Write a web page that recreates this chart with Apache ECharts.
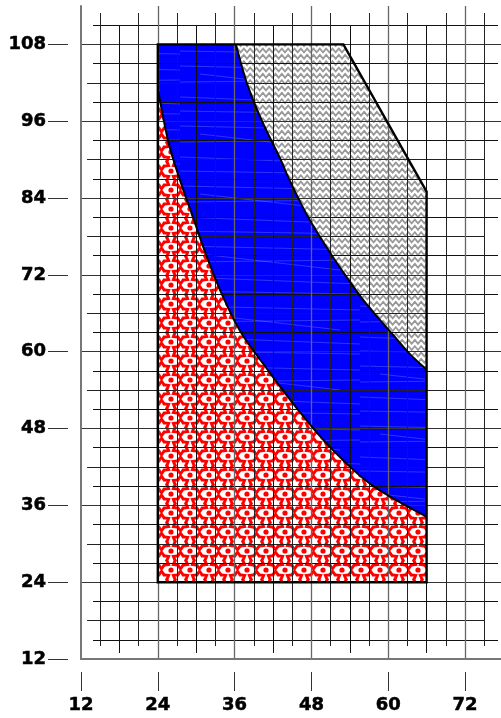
<!DOCTYPE html>
<html><head><meta charset="utf-8">
<script src="https://cdn.jsdelivr.net/npm/echarts@6/dist/echarts.min.js"></script>
<style>html,body{margin:0;padding:0;background:#fff}#c{width:501px;height:718px}</style>
</head><body><div id="c"></div>
<script>
// ---- data ----
const xTickLabels = [12, 24, 36, 48, 60, 72];
const yTickLabels = [12, 24, 36, 48, 60, 72, 84, 96, 108];
// boundary between blue (middle) and gray (upper) region
const upperCurve = [[36.2,108],[37.9,102],[40.3,96],[43.2,90],[44.5,87],[47.5,81],[50.9,75.5],[53.4,71.8],[56,68.2],[58.5,65.2],[61.3,62],[63.5,59.5],[66,57.2]];
// boundary between red (lower) and blue (middle) region
const lowerCurve = [[24,101],[25.6,93],[27.4,87],[29.5,81],[31.6,75],[34,69],[37,63],[41.3,57],[45.7,51.2],[50.9,45.1],[57.4,39.2],[66,34.2]];
// corners of the outer shape
const outerShape = [[24,24],[24,108],[53,108],[66,85],[66,24]];

// region outlines: sequences of straight ('L') and curved ('C') parts
const regionRed = [['L', [outerShape[0], outerShape[4]]], ['C', lowerCurve.slice().reverse()]];
const regionBlue = [['L', [outerShape[1]]], ['C', upperCurve], ['C', lowerCurve.slice().reverse()]];
const regionGray = [['L', [outerShape[2], outerShape[3]]], ['C', upperCurve.slice().reverse()]];
const regions = [regionRed, regionBlue, regionGray];

// ---- layout helpers ----
const X0 = 81, PXX = 6.4;
const Y0 = 659, PXY = 653 / 102;
const X = v => X0 + (v - 12) * PXX;
const Y = v => Y0 - (v - 12) * PXY;

// smooth rendering of a curve through pixel points (Catmull-Rom -> Bezier)
function curveSeg(pts, start) {
  let d = start ? `M${pts[0][0]},${pts[0][1]}` : `L${pts[0][0]},${pts[0][1]}`;
  const n = pts.length;
  for (let i = 0; i < n - 1; i++) {
    const p0 = pts[Math.max(i - 1, 0)], p1 = pts[i], p2 = pts[i + 1], p3 = pts[Math.min(i + 2, n - 1)];
    const c1 = [p1[0] + (p2[0] - p0[0]) / 6, p1[1] + (p2[1] - p0[1]) / 6];
    const c2 = [p2[0] - (p3[0] - p1[0]) / 6, p2[1] - (p3[1] - p1[1]) / 6];
    d += ` C${c1[0]},${c1[1]} ${c2[0]},${c2[1]} ${p2[0]},${p2[1]}`;
  }
  return d;
}
function regionPath(parts, api, close) {
  let d = '', first = true;
  parts.forEach(([kind, pts]) => {
    const px = pts.map(p => api.coord(p));
    if (kind === 'L') {
      px.forEach(p => { d += (first ? `M${p[0]},${p[1]}` : ` L${p[0]},${p[1]}`); first = false; });
    } else {
      d += ' ' + curveSeg(px, first); first = false;
    }
  });
  return d + (close ? ' Z' : '');
}

// ---- patterns ----
function starPath(ctx, cx, cy, ro, ri) {
  ctx.beginPath();
  for (let i = 0; i < 12; i++) {
    const r = i % 2 ? ri : ro;
    const a = -Math.PI / 2 + i * Math.PI / 6;
    ctx.lineTo(cx + r * Math.cos(a), cy + r * Math.sin(a));
  }
  ctx.closePath();
}
function redPattern() {
  const c = document.createElement('canvas'); c.width = 19; c.height = 19;
  const g = c.getContext('2d');
  g.fillStyle = '#ffffff'; g.fillRect(0, 0, 19, 19);
  g.fillStyle = '#ff0000';
  starPath(g, 9.5, 9.5, 10.6, 7.0); g.fill();
  [[0,0],[19,0],[0,19],[19,19]].forEach(p => { g.beginPath(); g.arc(p[0], p[1], 2.6, 0, Math.PI * 2); g.fill(); });
  g.fillStyle = '#ffffff'; starPath(g, 9.5, 9.5, 6.0, 3.5); g.fill();
  return c;
}
function grayPattern() {
  const c = document.createElement('canvas'); c.width = 19; c.height = 19;
  const g = c.getContext('2d');
  g.fillStyle = '#999999'; g.fillRect(0, 0, 19, 19);
  g.strokeStyle = '#ffffff'; g.lineWidth = 2.2; g.lineJoin = 'miter';
  const step = 19 / 6;
  [1.0, 7.33, 13.66].forEach(y0 => {
    g.beginPath();
    for (let i = -1; i <= 7; i++) {
      g.lineTo(i * step, y0 + (((i % 2) + 2) % 2 === 0 ? 3.9 : 0));
    }
    g.stroke();
  });
  return c;
}
function bluePattern() {
  const c = document.createElement('canvas'); c.width = 180; c.height = 60;
  const g = c.getContext('2d');
  g.fillStyle = '#0000ff'; g.fillRect(0, 0, 180, 60);
  g.strokeStyle = 'rgba(170,185,255,0.4)'; g.lineWidth = 0.7;
  [[0,6,180,10],[0,22,180,20],[0,37,180,44],[0,51,180,54],[20,14,160,30]].forEach(l => {
    g.beginPath(); g.moveTo(l[0], l[1]); g.lineTo(l[2], l[3]); g.stroke();
  });
  return c;
}
const fills = [
  { image: redPattern(), repeat: 'repeat' },
  { image: bluePattern(), repeat: 'repeat' },
  { image: grayPattern(), repeat: 'repeat' }
];

// ---- axis builders ----
function splitAxis(gridIndex, min, max, interval, color, width, extra) {
  return Object.assign({
    type: 'value', gridIndex, min, max, interval, z: 4,
    axisLine: { show: false }, axisTick: { show: false }, axisLabel: { show: false },
    splitLine: { show: true, lineStyle: { color, width } }
  }, extra || {});
}
const hid = (gi) => ({ type: 'value', gridIndex: gi, show: false, min: 0, max: 1 });

const labelFont = { color: '#000', fontFamily: 'DejaVu Sans', fontWeight: 'bold', fontSize: 18,
  textBorderColor: '#000', textBorderWidth: 0.5 };

const option = {
  animation: false,
  backgroundColor: '#ffffff',
  grid: [
    { left: X0, top: 6, width: 420, height: 653 },                               // 0 main
    { left: 93, width: 405, top: Y(111), height: Y(15) - Y(111) },               // 1 horizontal 15+6k
    { left: X(15), width: X(75) - X(15), top: 13, height: 633 },                 // 2 vertical 15+6k
    { left: 87, width: 398, top: Y(102), height: Y(18) - Y(102) },               // 3 horizontal 18+12k
    { left: X(18), width: X(66) - X(18), top: 25, height: 628 },                 // 4 vertical 18+12k
    { left: X0, top: 6, width: X(72) - X0, height: 653 },                        // 5 x ticks
    { left: X0, top: Y(108), width: 420, height: Y0 - Y(108) }                   // 6 y ticks
  ],
  xAxis: [
    splitAxis(0, 12, 12 + 420 / PXX, 12, '#666', 1, {
      axisLine: { show: true, onZero: false, lineStyle: { color: '#777', width: 2 } },
      splitLine: { show: true, showMinLine: false, showMaxLine: false, lineStyle: { color: '#666', width: 1.3 } }
    }),
    hid(1),
    splitAxis(2, 15, 75, 6, '#222', 1),
    hid(3),
    splitAxis(4, 18, 66, 12, '#111', 1),
    {
      type: 'value', gridIndex: 5, min: 12, max: 72, interval: 12, offset: 13, z: 4,
      axisLine: { show: false, onZero: false },
      axisTick: { show: true, length: 19, lineStyle: { color: '#333', width: 1 } },
      axisLabel: Object.assign({ margin: 24, formatter: v => xTickLabels.includes(v) ? String(v) : '' }, labelFont),
      splitLine: { show: false }
    },
    hid(6)
  ],
  yAxis: [
    splitAxis(0, 12, 114, 12, '#333', 1, {
      axisLine: { show: true, onZero: false, lineStyle: { color: '#777', width: 2 } },
      splitLine: { show: true, showMinLine: false, showMaxLine: false, lineStyle: { color: '#333', width: 1 } }
    }),
    splitAxis(1, 15, 111, 6, '#111', 1),
    hid(2),
    splitAxis(3, 18, 102, 12, '#222', 1),
    hid(4),
    hid(5),
    {
      type: 'value', gridIndex: 6, min: 12, max: 108, interval: 12, offset: 13, z: 4,
      axisLine: { show: false, onZero: false },
      axisTick: { show: true, length: 20, lineStyle: { color: '#333', width: 1 } },
      axisLabel: Object.assign({ margin: 22, formatter: v => yTickLabels.includes(v) ? String(v) : '' }, labelFont),
      splitLine: { show: false }
    }
  ],
  series: [
    {
      type: 'custom', xAxisIndex: 0, yAxisIndex: 0, z: 1, silent: true,
      data: regions.map((r, i) => [i, i]),
      renderItem: (params, api) => ({
        type: 'path',
        shape: { pathData: regionPath(regions[params.dataIndex], api, true) },
        style: { fill: fills[params.dataIndex], stroke: null }
      })
    },
    {
      type: 'custom', xAxisIndex: 0, yAxisIndex: 0, z: 6, silent: true,
      data: [[0, 0]],
      renderItem: (params, api) => ({
        type: 'group',
        children: [
          { type: 'polygon', shape: { points: outerShape.map(p => api.coord(p)) },
            style: { fill: null, stroke: '#000', lineWidth: 2.4, lineJoin: 'miter' } },
          { type: 'path', shape: { pathData: regionPath([['C', upperCurve]], api, false) },
            style: { fill: null, stroke: '#000', lineWidth: 2 } },
          { type: 'path', shape: { pathData: regionPath([['C', lowerCurve]], api, false) },
            style: { fill: null, stroke: '#000', lineWidth: 2 } }
        ]
      })
    }
  ]
};
const chart = echarts.init(document.getElementById('c'), null, { renderer: 'canvas' });
chart.setOption(option);
</script>
</body></html>
